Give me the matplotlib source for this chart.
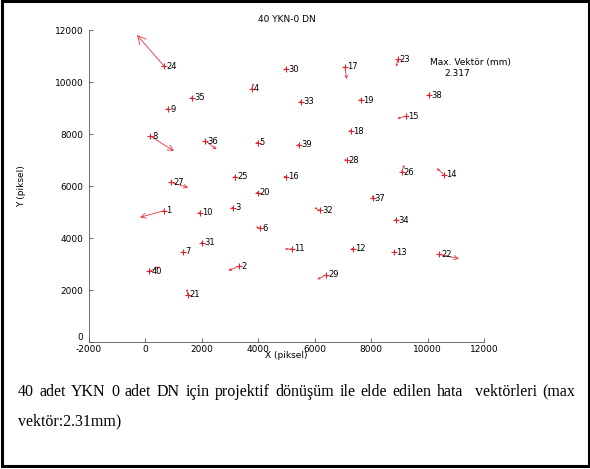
#!/usr/bin/env python3
"""Error vectors of the projective transform (40 YKN, 0 DN)."""

import matplotlib

matplotlib.use("Agg")
import matplotlib.pyplot as plt
import numpy as np
from matplotlib.patches import Rectangle

# point ids, positions (piksel) and scaled error vectors
point_ids = list(range(1, 41))
x_pts = [658, 3327, 3103, 3766, 3979, 4060, 1343, 162, 811, 1934,
         5205, 7368, 8820, 10592, 9234, 4970, 7073, 7273, 7628, 3979,
         1497, 10404, 8940, 658, 3185, 9082, 906, 7132, 6399, 4982,
         2005, 6187, 5513, 8880, 1661, 2122, 8054, 10061, 5442, 137]
y_pts = [5050, 2923, 5166, 9731, 7666, 4372, 3474, 7923, 8961, 4973,
         3577, 3590, 3449, 6436, 8692, 6358, 10588, 8115, 9307, 5742,
         1808, 3372, 10873, 10615, 6358, 6538, 6142, 6987, 2577, 10500,
         3820, 5064, 9243, 4692, 9396, 7730, 5526, 9500, 7589, 2718]
u_err = [-850, -390, -60, 60, -60, -142, -40, 850, -50, -50,
         -260, -80, -60, -272, -307, -60, 59, -60, -60, -50,
         -25, 709, -47, -957, -40, 94, 614, -80, -307, -50,
         -40, -201, -50, -60, -60, 400, 0, -60, -50, 354]
v_err = [-254, -180, 0, 220, 30, 65, -40, -577, 0, 0,
         0, 0, 10, 244, -103, 0, -474, 0, 0, 0,
         230, -167, -282, 1192, 40, 270, -208, 50, -167, 0,
         -30, 103, 0, 0, 0, -320, 120, 0, 0, 177]

x_ticks = list(range(-2000, 12001, 2000))
y_ticks = list(range(0, 12001, 2000))
title_text = "40 YKN-0 DN"
max_label = "Max. Vektör (mm)"
max_value = "2.317"
caption_line1 = "40 adet YKN 0 adet DN için projektif dönüşüm ile elde edilen hata  vektörleri (max"
caption_line2 = "vektör:2.31mm)"

W, H, DPI = 590, 469, 100
ARROW_RED = "#e8303a"
AXIS_GRAY = "#555555"

plt.rcParams["axes.unicode_minus"] = False


def draw_caption(fig):
    renderer = fig.canvas.get_renderer()
    left_px, right_px = 18, 575
    y1 = 1 - 392 / H
    y2 = 1 - 421 / H
    font = dict(family="Liberation Serif", fontsize=11.5, va="center", ha="left")

    # justified first line: spread the extra room over the gaps
    words = caption_line1.split(" ")
    texts = [fig.text(0, y1, w, **font) for w in words]
    widths = [t.get_window_extent(renderer).width if w else 0.0
              for t, w in zip(texts, words)]
    gap = (right_px - left_px - sum(widths)) / (len(words) - 1)
    x = left_px
    for t, w in zip(texts, widths):
        t.set_x(x / W)
        x += w + gap

    fig.text(left_px / W, y2, caption_line2, **font)


def main():
    fig = plt.figure(figsize=(W / DPI, H / DPI), dpi=DPI)
    ax = fig.add_axes([89 / W, 1 - 342 / H, (484 - 89) / W, (342 - 30) / H])

    ax.set_xlim(-2000, 12000)
    ax.set_ylim(0, 12000)
    ax.set_xticks(x_ticks)
    ax.set_yticks(y_ticks)
    for side in ["top", "right"]:
        ax.spines[side].set_visible(False)
    for side in ["left", "bottom"]:
        ax.spines[side].set_color(AXIS_GRAY)
        ax.spines[side].set_linewidth(0.6)
    ax.tick_params(direction="in", length=3, width=0.6, colors=AXIS_GRAY,
                   labelcolor="black", labelsize=6.5)
    ax.tick_params(axis="x", pad=2)
    ax.tick_params(axis="y", pad=4)
    # MATLAB puts the y "0" just above the x "-2000"
    ax.get_yticklabels()[0].set_verticalalignment("bottom")

    ax.set_title(title_text, fontsize=6.5, pad=6)
    ax.set_xlabel("X (piksel)", fontsize=6.5)
    ax.set_ylabel("Y (piksel)", fontsize=6.5)
    ax.xaxis.set_label_coords(0.5, -0.028)
    ax.yaxis.set_label_coords(-0.16, 0.5)

    # error vectors, head size follows the vector length like MATLAB quiver
    for x, y, u, v in zip(x_pts, y_pts, u_err, v_err):
        p0 = ax.transData.transform((x, y))
        p1 = ax.transData.transform((x + u, y + v))
        length_pt = np.hypot(*(p1 - p0)) * 72 / DPI
        if length_pt < 0.3:
            continue
        ax.annotate("", xy=(x + u, y + v), xytext=(x, y),
                    arrowprops=dict(arrowstyle="->", color=ARROW_RED, lw=0.6,
                                    shrinkA=0, shrinkB=0,
                                    mutation_scale=max(1.0, 0.5 * length_pt)))

    ax.plot(x_pts, y_pts, "+", color="#e02030", ms=4, mew=0.8)
    for pid, x, y in zip(point_ids, x_pts, y_pts):
        ax.annotate(str(pid), (x, y), xytext=(1.5, 0), textcoords="offset points",
                    va="center", ha="left", fontsize=6)

    ax.text(10086, 10769, max_label, fontsize=6.5, va="center", ha="left")
    ax.text(10582, 10346, max_value, fontsize=6.5, va="center", ha="left")

    draw_caption(fig)

    fig.add_artist(Rectangle((1.5 / W, 3.5 / H), 587 / W, 464 / H,
                             transform=fig.transFigure, fill=False,
                             edgecolor="black", linewidth=2.2))

    fig.savefig("out.png", dpi=DPI)
    plt.close(fig)


if __name__ == "__main__":
    main()
